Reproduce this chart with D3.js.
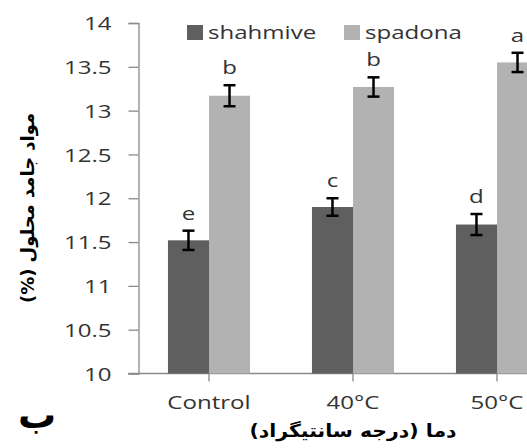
<!DOCTYPE html>
<html>
<head>
<meta charset="utf-8">
<script src="https://cdn.jsdelivr.net/npm/d3@7"></script>
<style>
  html, body { margin: 0; padding: 0; background: #fff; overflow: hidden; }
  svg { display: block; }
</style>
</head>
<body>
<svg id="chart" width="527" height="448"></svg>
<script>
// Total soluble solids (%) by temperature treatment for two cultivars
const categories = ["Control", "40°C", "50°C"];
const seriesNames = ["shahmive", "spadona"];
const shahmive = [11.52, 11.90, 11.70];
const spadona = [13.17, 13.27, 13.55];
const shahmiveErr = [0.11, 0.10, 0.12];
const spadonaErr = [0.12, 0.11, 0.11];
const shahmiveLetters = ["e", "c", "d"];
const spadonaLetters = ["b", "b", "a"];
const yTicks = [10, 10.5, 11, 11.5, 12, 12.5, 13, 13.5, 14];
const yTitle = "مواد جامد محلول (%)";
const xTitle = "دما (درجه سانتیگراد)";
const panelLabel = "ب";

const colors = { shahmive: "#5f5f5f", spadona: "#b2b2b2" };
const latinFont = "'Open Sans', sans-serif";
const arabicFont = "'DejaVu Sans', sans-serif";
const stretch = 1.3; // wide glyph look of the labels

const svg = d3.select("#chart");

const rows = categories.map((c, i) => ({
  cat: c,
  bars: [
    { key: "shahmive", value: shahmive[i], err: shahmiveErr[i], letter: shahmiveLetters[i] },
    { key: "spadona", value: spadona[i], err: spadonaErr[i], letter: spadonaLetters[i] }
  ]
}));

const x0 = d3.scaleBand().domain(categories).range([137, 569]).paddingInner(0.43).paddingOuter(0.215);
const x1 = d3.scaleBand().domain(seriesNames).range([0, x0.bandwidth()]);
const y = d3.scaleLinear().domain([10, 14]).range([373.5, 23]);

function widen(sel, k) {
  sel.each(function () {
    const w = this.getComputedTextLength();
    d3.select(this).attr("textLength", w * k).attr("lengthAdjust", "spacingAndGlyphs");
  });
}

// Y axis
const yAxis = svg.append("g")
  .attr("transform", "translate(138.5,0)")
  .call(d3.axisLeft(y).tickValues(yTicks).tickSize(10).tickPadding(17).tickFormat(d3.format("")));
yAxis.select(".domain").attr("stroke", "#8a8a8a").attr("stroke-width", 1.3);
yAxis.selectAll(".tick line").attr("stroke", "#8a8a8a").attr("stroke-width", 1.3);
yAxis.selectAll(".tick text")
  .attr("font-family", latinFont).attr("font-size", 18.5).attr("fill", "#333").attr("dy", "0.36em");
widen(yAxis.selectAll(".tick text"), stretch);

// X axis
const xAxis = svg.append("g")
  .attr("transform", "translate(0,373.5)")
  .call(d3.axisBottom(x0).tickSize(8).tickPadding(14));
xAxis.select(".domain").attr("d", "M128,0H569").attr("stroke", "#8a8a8a").attr("stroke-width", 1.3);
xAxis.selectAll(".tick line").attr("stroke", "#8a8a8a").attr("stroke-width", 1.3);
xAxis.selectAll(".tick text")
  .attr("font-family", latinFont).attr("font-size", 18.5).attr("fill", "#333");
widen(xAxis.selectAll(".tick text"), stretch);

// Bars
const groups = svg.append("g").selectAll("g")
  .data(rows).join("g")
  .attr("transform", d => `translate(${x0(d.cat)},0)`);

groups.selectAll("rect")
  .data(d => d.bars).join("rect")
  .attr("x", d => x1(d.key))
  .attr("y", d => y(d.value))
  .attr("width", x1.bandwidth())
  .attr("height", d => y(10) - y(d.value))
  .attr("fill", d => colors[d.key]);

// Error bars
const eb = groups.selectAll("g.err")
  .data(d => d.bars).join("g").attr("class", "err")
  .attr("transform", d => `translate(${x1(d.key) + x1.bandwidth() / 2},0)`)
  .attr("stroke", "#000").attr("stroke-width", 2.5);
eb.append("line").attr("x1", 0).attr("x2", 0)
  .attr("y1", d => y(d.value + d.err)).attr("y2", d => y(d.value - d.err));
eb.append("line").attr("x1", -6).attr("x2", 6)
  .attr("y1", d => y(d.value + d.err)).attr("y2", d => y(d.value + d.err));
eb.append("line").attr("x1", -6).attr("x2", 6)
  .attr("y1", d => y(d.value - d.err)).attr("y2", d => y(d.value - d.err));

// Significance letters
const letters = groups.selectAll("text.sig")
  .data(d => d.bars).join("text").attr("class", "sig")
  .attr("x", d => x1(d.key) + x1.bandwidth() / 2)
  .attr("y", d => y(d.value + d.err) - 11)
  .attr("text-anchor", "middle")
  .attr("font-family", latinFont).attr("font-size", 18.5).attr("fill", "#333")
  .text(d => d.letter);
widen(letters, stretch);

// Legend
const legend = svg.append("g").attr("transform", "translate(187,25)");
const legendX = [0, 157];
seriesNames.forEach((s, i) => {
  const g = legend.append("g").attr("transform", `translate(${legendX[i]},0)`);
  g.append("rect").attr("width", 16).attr("height", 15).attr("fill", colors[s]);
  const t = g.append("text").attr("x", 21).attr("y", 13.5)
    .attr("font-family", latinFont).attr("font-size", 18.5).attr("fill", "#333")
    .text(s);
  widen(t, stretch);
});

// Axis titles
svg.append("text")
  .attr("transform", "translate(34,208) rotate(-90)")
  .attr("text-anchor", "middle").attr("direction", "rtl")
  .attr("font-family", arabicFont).attr("font-weight", "bold")
  .attr("font-size", 18).attr("fill", "#000")
  .attr("textLength", 190).attr("lengthAdjust", "spacingAndGlyphs")
  .text(yTitle);

svg.append("text")
  .attr("x", 353).attr("y", 437)
  .attr("text-anchor", "middle").attr("direction", "rtl")
  .attr("font-family", arabicFont).attr("font-weight", "bold")
  .attr("font-size", 18).attr("fill", "#000")
  .attr("textLength", 207).attr("lengthAdjust", "spacingAndGlyphs")
  .text(xTitle);

svg.append("text")
  .attr("x", 37).attr("y", 428)
  .attr("text-anchor", "middle")
  .attr("font-family", arabicFont).attr("font-weight", "bold")
  .attr("font-size", 38).attr("fill", "#000")
  .text(panelLabel);
</script>
</body>
</html>
